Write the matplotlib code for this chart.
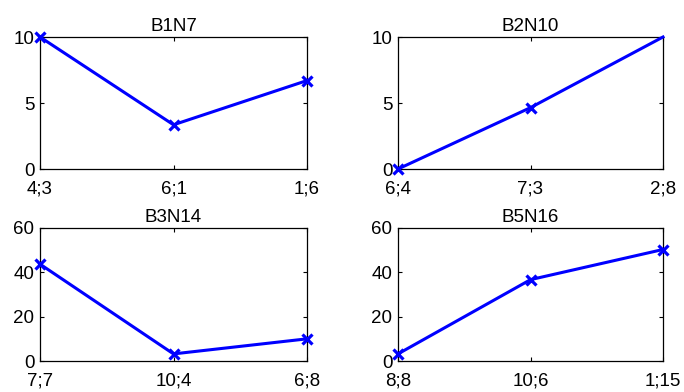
import matplotlib.pyplot as plt

# donnees
titres = ["B1N7", "B2N10", "B3N14", "B5N16"]
etiquettes = [["4;3", "6;1", "1;6"],
              ["6;4", "7;3", "2;8"],
              ["7;7", "10;4", "6;8"],
              ["8;8", "10;6", "1;15"]]
b1n7 = [10.0, 3.35, 6.7]
b2n10 = [0.0, 4.65, 10.0]
b3n14 = [43.7, 3.2, 10.0]
b5n16 = [3.2, 36.7, 50.3]
valeurs = [b1n7, b2n10, b3n14, b5n16]
ymax = [10, 10, 60, 60]
yticks = [[0, 5, 10], [0, 5, 10], [0, 20, 40, 60], [0, 20, 40, 60]]

plt.rcParams['font.family'] = ['Liberation Sans', 'DejaVu Sans']
plt.rcParams['font.size'] = 13.5

fig = plt.figure(figsize=(6.84, 3.92), dpi=100)
W, H = 684.0, 392.0
# positions des axes en pixels (gauche, haut, droite, bas)
boites = [(40, 37, 307, 169), (398, 37, 663, 169),
          (40, 228, 307, 361), (398, 228, 663, 361)]

for i in range(4):
    g, h, d, b = boites[i]
    ax = fig.add_axes([g / W, 1 - b / H, (d - g) / W, (b - h) / H])
    x = [1, 2, 3]
    marques = [0, 1] if i == 1 else [0, 1, 2]   # pas de croix visible au dernier point de B2N10
    ax.plot(x, valeurs[i], color='#0000ff', lw=2.2, marker='x', ms=7.5, mew=2.3,
            markevery=marques, clip_on=False, zorder=3)
    ax.set_xlim(1, 3)
    ax.set_ylim(0, ymax[i])
    ax.set_xticks(x)
    ax.set_xticklabels(etiquettes[i])
    ax.set_yticks(yticks[i])
    ax.tick_params(direction='in', top=True, right=True, length=3, width=0.8)
    ax.tick_params(axis='x', pad=8)
    ax.tick_params(axis='y', pad=4)
    for s in ax.spines.values():
        s.set_linewidth(0.9)
    ax.set_title(titres[i], fontsize=13.5, pad=4)

fig.savefig("out.png", dpi=100)
